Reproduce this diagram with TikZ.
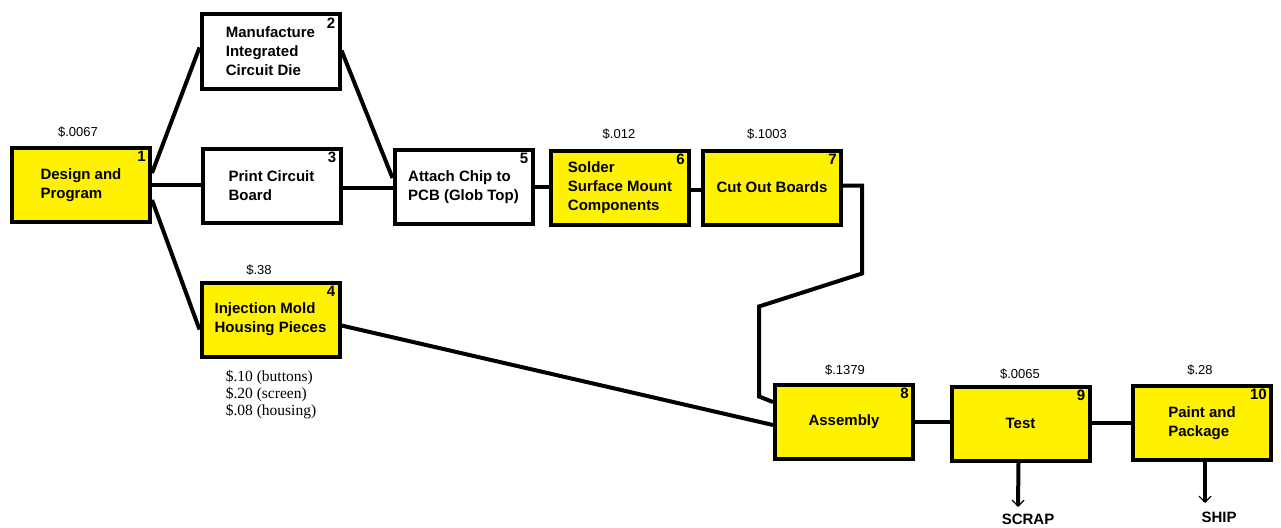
\documentclass[tikz,border=0pt]{standalone}
\usepackage{fontspec}
\setmainfont{Liberation Sans}
\newfontfamily\timesfont{Liberation Serif}
\usetikzlibrary{arrows.meta}

\begin{document}
\begin{tikzpicture}[x=1pt, y=-1pt,
    proc/.style={rectangle, draw, line width=4pt, minimum width=138pt, minimum height=74pt, inner sep=0pt, align=left, font=\fontsize{15}{19}\selectfont\bfseries},
    hot/.style={proc, fill=yellow},
    cold/.style={proc, fill=white},
    num/.style={anchor=north east, inner xsep=6pt, inner ysep=5pt, font=\fontsize{15}{15}\selectfont\bfseries},
    cost/.style={font=\fontsize{13}{15}\selectfont},
    parts/.style={align=left, font=\timesfont\fontsize{15.5}{17}\selectfont},
    sink/.style={font=\fontsize{15}{15}\selectfont\bfseries},
    link/.style={line width=4pt},
    exitarrow/.style={line width=4pt, -{Straight Barb[length=6pt, width=12pt, line width=1.2pt]}}]
    \useasboundingbox (0,0) rectangle (1281,527);

    % Draw nodes
    \node[hot, label={[num]north east:1}] (b1) at (81,185) {Design and\\Program};
    \node[cold, label={[num]north east:2}] (b2) at (270.5,51.5) {Manufacture\\Integrated\\Circuit Die};
    \node[cold, label={[num]north east:3}] (b3) at (271.5,186) {Print Circuit\\Board};
    \node[hot, label={[num]north east:4}] (b4) at (270.5,319.5) {Injection Mold\\Housing Pieces};
    \node[cold, label={[num]north east:5}] (b5) at (463.5,187) {Attach Chip to\\PCB (Glob Top)};
    \node[hot, label={[num]north east:6}] (b6) at (620,187.5) {Solder\\Surface Mount\\Components};
    \node[hot, label={[num]north east:7}] (b7) at (772,187.5) {Cut Out Boards};
    \node[hot, label={[num]north east:8}] (b8) at (844,422) {Assembly};
    \node[hot, label={[num]north east:9}] (b9) at (1020.5,423.5) {Test};
    \node[hot, label={[num]north east:10}] (b10) at (1202,423) {Paint and\\Package};

    \node[sink] (scrap) at (1028,519) {SCRAP};
    \node[sink] (ship) at (1219,517) {SHIP};
    \coordinate (scrapend) at (1018,507);
    \coordinate (shipend) at (1205,503);

    % Draw connections
    \draw[link] ([yshift=12pt]b1.east) -- ([yshift=4pt]b2.west);
    \draw[link] (b1.east) -- (b1.east -| b3.west);
    \draw[link] ([yshift=-15pt]b1.east) -- ([yshift=-10pt]b4.west);
    \draw[link] ([yshift=1pt]b2.east) -- ([yshift=9pt]b5.west);
    \draw[link] ([yshift=-2pt]b3.east) -- ([yshift=-1pt]b5.west);
    \draw[link] (b5.east) -- (b5.east -| b6.west);
    \draw[link] ([yshift=-2.5pt]b6.east) -- ([yshift=-2.5pt]b7.west);
    \draw[link] ([yshift=2pt]b7.east) -- ++(19,0) -- ++(0,88) -- ++(-103,33) -- ++(0,90) -- ([yshift=20pt]b8.west);
    \draw[link] ([yshift=-6pt]b4.east) -- ([yshift=-3pt]b8.west);
    \draw[link] (b8.east) -- (b8.east -| b9.west);
    \draw[link] (b10.west -| b9.east) -- (b10.west);
    \draw[exitarrow] ([xshift=-2pt]b9.south) -- (scrapend);
    \draw[exitarrow] ([xshift=3pt]b10.south) -- (shipend);

    % Labels
    \node[cost] (c1) at (78,132) {\$.0067};
    \node[cost] (c4) at (259,270) {\$.38};
    \node[cost] (c6) at (619,134) {\$.012};
    \node[cost] (c7) at (767,134) {\$.1003};
    \node[cost] (c8) at (845,370) {\$.1379};
    \node[cost] (c9) at (1020,374) {\$.0065};
    \node[cost] (c10) at (1200,370) {\$.28};
    \node[parts] (c4parts) at (271,395) {\$.10 (buttons)\\\$.20 (screen)\\\$.08 (housing)};
\end{tikzpicture}
\end{document}
